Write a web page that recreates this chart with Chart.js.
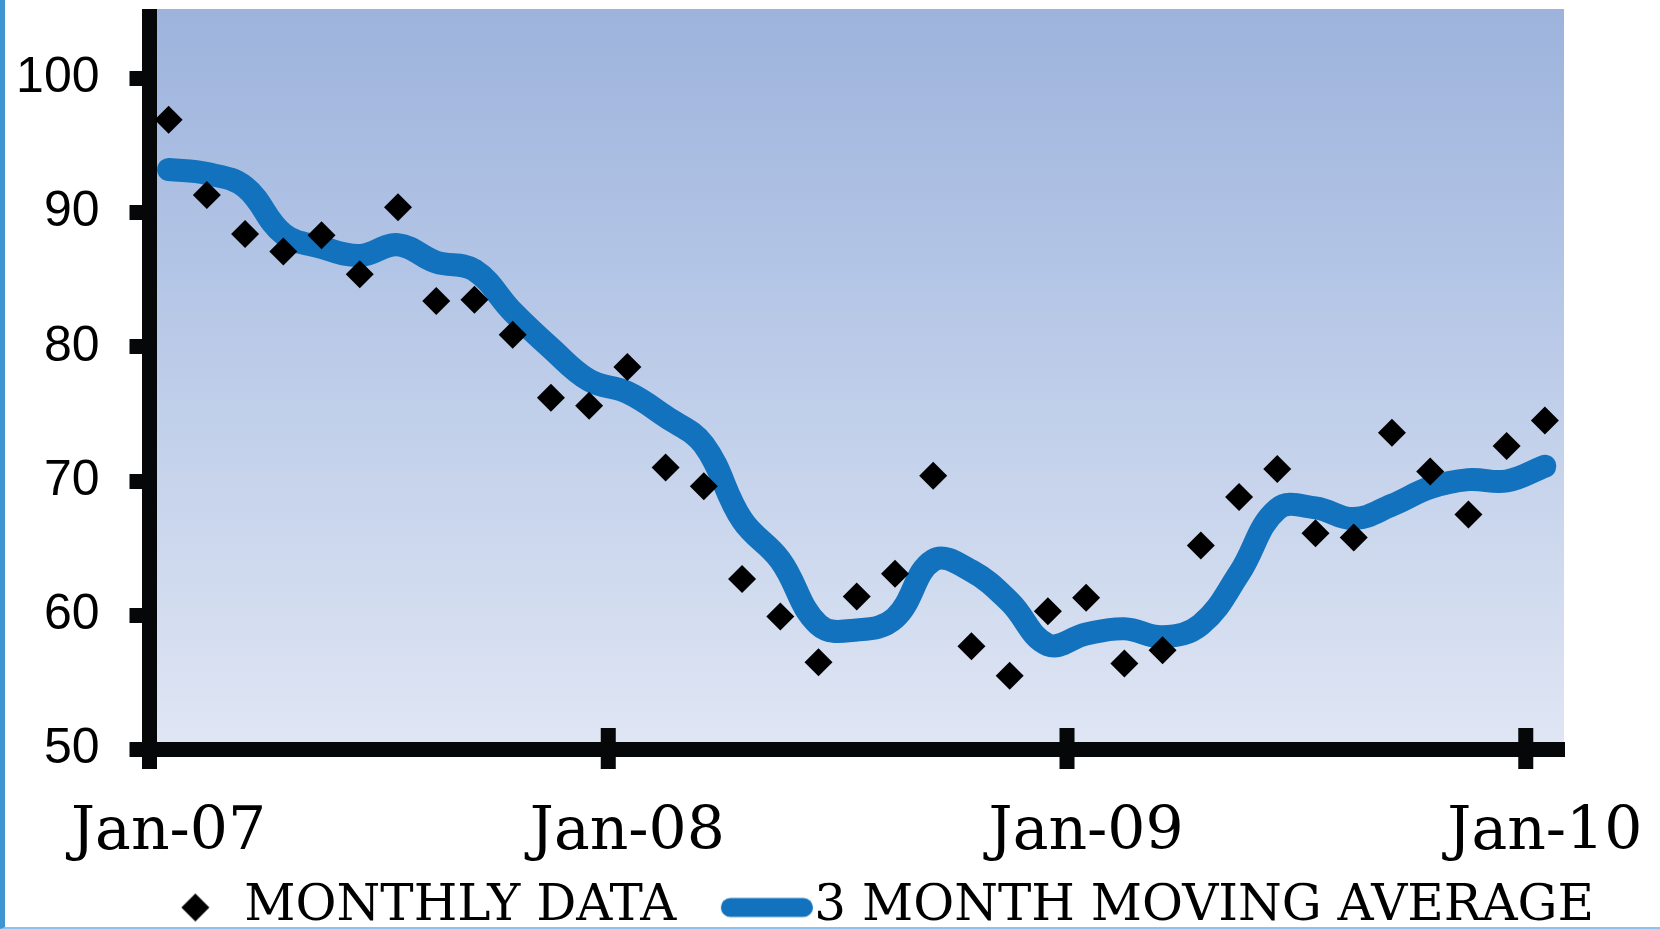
<!DOCTYPE html>
<html>
<head>
<meta charset="utf-8">
<title>Monthly data and 3 month moving average</title>
<script src="https://cdn.jsdelivr.net/npm/chart.js@4.4.1/dist/chart.umd.min.js"></script>
<style>
  html, body { margin: 0; padding: 0; background: #fff; }
  .wrap { position: relative; width: 1660px; height: 929px; }
  .frame {
    position: absolute; left: 0; top: 0; width: 1660px; height: 929px;
    box-sizing: border-box;
    border-left: 5px solid #3f94d2;
    border-bottom: 2px solid #8cc3ea;
    pointer-events: none;
  }
</style>
</head>
<body>
<div class="wrap">
  <canvas id="chart" width="1660" height="929"></canvas>
  <div class="frame"></div>
</div>
<script>
// categories: one per month, Jan-07 .. Jan-10
const months = [
  'Jan-07', 'Feb-07', 'Mar-07', 'Apr-07', 'May-07', 'Jun-07', 'Jul-07', 'Aug-07', 'Sep-07', 'Oct-07', 'Nov-07', 'Dec-07',
  'Jan-08', 'Feb-08', 'Mar-08', 'Apr-08', 'May-08', 'Jun-08', 'Jul-08', 'Aug-08', 'Sep-08', 'Oct-08', 'Nov-08', 'Dec-08',
  'Jan-09', 'Feb-09', 'Mar-09', 'Apr-09', 'May-09', 'Jun-09', 'Jul-09', 'Aug-09', 'Sep-09', 'Oct-09', 'Nov-09', 'Dec-09',
  'Jan-10'
];

// monthly values (diamonds)
const monthlyData = [
  96.9, 91.3, 88.4, 87.1, 88.3, 85.4, 90.4, 83.4, 83.5, 80.9, 76.2, 75.6,
  78.5, 71.0, 69.6, 62.7, 59.9, 56.5, 61.4, 63.1, 70.4, 57.7, 55.5, 60.3,
  61.3, 56.4, 57.4, 65.2, 68.8, 70.9, 66.1, 65.8, 73.6, 70.7, 67.5, 72.6,
  74.5
];

// 3 month moving average (blue line)
const movingAverage = [
  93.2, 92.9, 91.9, 88.4, 87.4, 86.8, 87.6, 86.3, 85.7, 82.6, 79.9, 77.5,
  76.6, 74.8, 72.7, 67.1, 64.1, 59.3, 58.9, 59.8, 64.1, 63.3, 61.0, 57.8,
  58.6, 59.0, 58.4, 59.3, 63.1, 67.9, 68.0, 67.2, 68.2, 69.5, 70.1, 70.0,
  71.1
];

// y axis range and tick step
const yMin = 50;
const yMax = 104.6;
const yStep = 10;

const seriesNames = ['MONTHLY DATA', '3 MONTH MOVING AVERAGE'];

const AXIS_COLOR = '#050708';
const AXIS_WIDTH = 15;
const LINE_COLOR = '#1272bd';

// legend symbols, drawn right of centre so they sit next to their text
function makeDiamondSymbol() {
  const c = document.createElement('canvas');
  c.width = 94;
  c.height = 30;
  const g = c.getContext('2d');
  const cx = 79.5, cy = 15, r = 14;
  g.fillStyle = '#000';
  g.beginPath();
  g.moveTo(cx - r, cy);
  g.lineTo(cx, cy - r);
  g.lineTo(cx + r, cy);
  g.lineTo(cx, cy + r);
  g.closePath();
  g.fill();
  return c;
}

function makeLineSymbol() {
  const c = document.createElement('canvas');
  c.width = 160;
  c.height = 22;
  const g = c.getContext('2d');
  g.strokeStyle = LINE_COLOR;
  g.lineWidth = 19;
  g.lineCap = 'round';
  g.beginPath();
  g.moveTo(77.5, 11);
  g.lineTo(150.5, 11);
  g.stroke();
  return c;
}

const diamondSymbol = makeDiamondSymbol();
const lineSymbol = makeLineSymbol();

// gradient plot background + tick marks that cross the x axis
const plotStyle = {
  id: 'plotStyle',
  beforeDraw(chart) {
    const { ctx, chartArea: a } = chart;
    const top = a.top - AXIS_WIDTH / 2;
    const grad = ctx.createLinearGradient(0, top, 0, a.bottom);
    grad.addColorStop(0, '#9db3dc');
    grad.addColorStop(0.35, '#b3c5e6');
    grad.addColorStop(0.7, '#cbd7ed');
    grad.addColorStop(1, '#e0e6f4');
    ctx.save();
    ctx.fillStyle = grad;
    ctx.fillRect(a.left, top, a.right - a.left, a.bottom - top);
    ctx.restore();
  },
  afterDraw(chart) {
    const { ctx } = chart;
    const x = chart.scales.x;
    ctx.save();
    ctx.fillStyle = AXIS_COLOR;
    months.forEach((m, i) => {
      if (!m.startsWith('Jan')) return;
      const px = x.getPixelForValue(i - 0.5);
      ctx.fillRect(px - AXIS_WIDTH / 2, x.top - 21.5, AXIS_WIDTH, 41);
    });
    ctx.restore();
  }
};

Chart.defaults.color = '#000';

const chart = new Chart(document.getElementById('chart'), {
  type: 'line',
  data: {
    labels: months,
    datasets: [{
      label: seriesNames[0],
      data: monthlyData,
      showLine: false,
      pointStyle: 'rectRot',
      pointRadius: 14,
      pointHoverRadius: 14,
      pointBackgroundColor: '#000',
      pointBorderWidth: 0,
      borderColor: '#000',
      backgroundColor: '#000'
    }, {
      label: seriesNames[1],
      data: movingAverage,
      borderColor: LINE_COLOR,
      backgroundColor: LINE_COLOR,
      borderWidth: 23,
      borderCapStyle: 'round',
      borderJoinStyle: 'round',
      tension: 0.4,
      pointRadius: 0,
      pointHoverRadius: 0,
      fill: false
    }]
  },
  options: {
    responsive: false,
    animation: false,
    events: [],
    layout: {
      padding: { left: 0, right: 66, top: 16.5, bottom: -13.5 }
    },
    scales: {
      x: {
        type: 'category',
        offset: true,
        grid: {
          display: true,
          drawOnChartArea: false,
          offset: true,
          tickLength: 20,
          color: 'rgba(0,0,0,0)'
        },
        border: { display: true, width: AXIS_WIDTH, color: AXIS_COLOR },
        ticks: {
          autoSkip: false,
          maxRotation: 0,
          minRotation: 0,
          padding: 28,
          color: '#000',
          font: { family: 'DejaVu Serif', size: 60, lineHeight: 1.2 },
          callback(value) {
            const label = this.getLabelForValue(value);
            return label.startsWith('Jan') ? label : null;
          }
        },
        afterFit(scale) {
          scale.height = 133;
          scale.paddingLeft = 0;
          scale.paddingRight = 0;
        }
      },
      y: {
        min: yMin,
        max: yMax,
        grid: {
          drawOnChartArea: false,
          tickLength: 20,
          lineWidth: AXIS_WIDTH,
          color: AXIS_COLOR
        },
        border: { display: true, width: AXIS_WIDTH, color: AXIS_COLOR },
        ticks: {
          stepSize: yStep,
          includeBounds: false,
          padding: 30,
          color: '#000',
          font: { family: 'Liberation Sans', size: 50 }
        },
        afterFit(scale) {
          scale.width = 149.5;
          scale.paddingTop = 0;
          scale.paddingBottom = 0;
        }
      },
      // empty right-hand axis, only keeps room right of the plot
      pad: {
        type: 'linear',
        position: 'right',
        display: true,
        grid: { display: false },
        border: { display: false },
        ticks: { display: false },
        afterFit(scale) {
          scale.width = 30;
          scale.paddingTop = 0;
          scale.paddingBottom = 0;
        }
      }
    },
    plugins: {
      tooltip: { enabled: false },
      legend: {
        position: 'bottom',
        align: 'end',
        labels: {
          usePointStyle: true,
          pointStyleWidth: 113,
          padding: 0,
          color: '#000',
          font: { family: 'DejaVu Serif', size: 50 },
          generateLabels(chart) {
            const items = Chart.defaults.plugins.legend.labels.generateLabels(chart);
            items[0].pointStyle = diamondSymbol;
            items[1].pointStyle = lineSymbol;
            return items;
          }
        }
      }
    }
  },
  plugins: [plotStyle]
});
</script>
</body>
</html>
